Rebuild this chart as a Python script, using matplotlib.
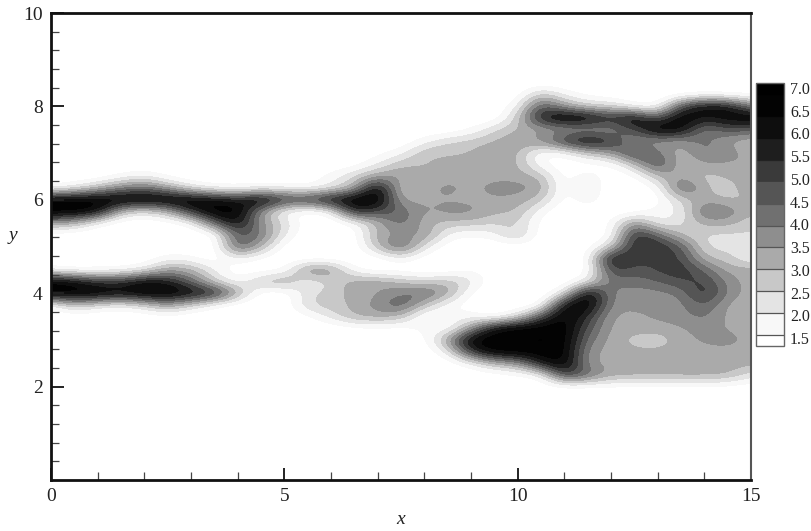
#!/usr/bin/env python3
"""Grey banded wake field drawn with bicubic image resampling, with a level key on the right."""

import numpy as np
import matplotlib
matplotlib.use("Agg")
import matplotlib.pyplot as plt
from matplotlib.colors import BoundaryNorm, ListedColormap

# value grid: one list per x, running from y=8.5 down to y=1.5
x_values = [0.5 * i for i in range(31)]
y_values = [8.5 - 0.25 * i for i in range(29)]
blank_top = [1] * 8
blank_low = [1] * 7
density_by_x = [
    blank_top + [1, 1.4, 7, 7, 3.5, 1, 1, 1, 1.6, 7, 7, 1.4, 1, 1] + blank_low,
    blank_top + [1, 2, 7, 7, 3, 1, 1, 1, 1.2, 6.5, 7, 3, 1, 1] + blank_low,
    blank_top + [1, 3, 7, 6.5, 1.6, 1, 1, 1, 1.4, 5.5, 7, 2.2, 1, 1] + blank_low,
    blank_top + [1.6, 4, 7, 2.8, 1, 1, 1, 1, 1.5, 5.5, 6.5, 1.8, 1, 1] + blank_low,
    blank_top + [2, 4.5, 7, 2.2, 1, 1, 1, 1, 2, 6.5, 7, 2.5, 1, 1] + blank_low,
    blank_top + [1.3, 3.5, 7, 3, 1.1, 1, 1, 1.8, 3.5, 6, 7, 3.5, 1.2, 1] + blank_low,
    blank_top + [1, 2.2, 7, 5.5, 1.5, 1, 1, 1.6, 3.2, 4.5, 6.5, 2.5, 1, 1] + blank_low,
    blank_top + [1, 1.6, 6.5, 7, 4.5, 1.1, 1, 1, 2, 2.5, 6, 1.5, 1, 1] + blank_low,
    blank_top + [1, 1.5, 6, 7, 6.5, 4.8, 5, 2, 1, 1.5, 3.5, 1, 1, 1] + blank_low,
    blank_top + [1, 1.7, 7, 3.5, 3.5, 4.3, 3.2, 1.3, 1, 3, 1, 1, 1, 1] + blank_low,
    blank_top + [1, 1.8, 5.5, 1.5, 2.5, 2, 1.1, 1, 1.3, 3.5, 1, 1, 1, 1] + blank_low,
    blank_top + [1, 1.5, 5.5, 1.1, 1, 1, 1, 1, 4, 1.8, 2.3, 2.6, 1.3, 1] + blank_low,
    blank_top + [1.8, 2, 6.5, 1.6, 1, 1, 1, 1, 3.8, 2.5, 2.8, 2.8, 2.2, 1] + blank_low,
    [1, 1, 1, 1, 1, 1, 1, 1.2] + [2.5, 3, 7, 6, 1.5, 1, 1, 1, 1.5, 3.4, 3.2, 3.1, 3.2, 1.2] + blank_low,
    [1, 1, 1, 1, 1, 1, 1.3, 2] + [3.5, 7, 7, 5, 3, 3.5, 3, 1.1, 1, 3.5, 3.4, 3.8, 3.3, 1.3] + blank_low,
    [1, 1, 1, 1, 1, 1, 1.8, 3] + [3.6, 2.5, 3.2, 4.5, 4.5, 3.3, 4.8, 2, 1, 3, 4, 4.8, 3, 1.2] + blank_low,
    [1, 1, 1, 1, 1, 1.8, 3, 3, 3, 3.3, 3.4, 3.4, 3.1, 3.8, 2.2, 1.1, 1, 2.5, 4.5, 3, 1, 1.8, 1.2, 1, 1, 1, 1, 1, 1],
    [1, 1, 1, 1, 1, 2.5, 3, 3.1, 3.3, 3.8, 3.4, 3.8, 2.8, 1.8, 1.1, 1, 1, 3, 3.5, 1.5, 1.7, 1.3, 3.5, 2, 1, 1, 1, 1, 1],
    [1, 1, 1, 1, 1.5, 2.7, 3, 3.2, 3.3, 3.3, 3.3, 3.8, 2.8, 1.5, 1, 1, 1.5, 2.3, 1.3, 1.1, 1.8, 3.5, 7, 5.5, 1.8, 1, 1, 1, 1],
    [1, 1, 1, 1, 2.5, 3, 3.7, 3.2, 3.3, 3.8, 3.4, 3.1, 2.5, 1.8, 1, 1, 1.1, 1, 1, 1, 1.1, 6.5, 7, 7, 3, 1.1, 1, 1, 1],
    [1, 1.1, 1.8, 2.7, 3, 3.6, 3.1, 3.2, 3.3, 3.8, 3.3, 3.1, 2.6, 3, 1.2, 1, 1.3, 1, 1, 1, 2.2, 7, 7, 7, 3.5, 1.3, 1, 1, 1],
    [1, 3, 5, 6, 3.2, 3.7, 1.3, 1.5, 3, 3.5, 2.8, 1.6, 1.2, 1, 1, 1, 1, 1, 1, 1.1, 5, 7, 7, 7, 6, 1.6, 1, 1, 1],
    [1, 1.8, 3.5, 7, 3.5, 5.5, 1.5, 1.1, 1.1, 1.1, 1.1, 1, 1, 1.5, 1, 1, 1, 1, 2, 6.5, 7, 7, 7, 7, 7, 5.5, 1.2, 1, 1],
    [1, 1.3, 2.5, 6.8, 3.5, 6.5, 2.8, 1.1, 2, 2.2, 2, 1.2, 1, 1, 1.1, 1.2, 1.1, 2, 7, 7, 5.5, 4.8, 4.2, 3.6, 3.5, 4.5, 1.2, 1, 1],
    [1, 1.1, 2.5, 5.5, 3.7, 5.5, 3.5, 1.2, 1.1, 1, 1, 1, 1.4, 1.2, 2.5, 6.5, 5.3, 4.3, 3.8, 3.7, 3.3, 3.3, 3.3, 3.3, 3.3, 3.3, 1.3, 1, 1],
    [1, 1, 1.5, 6.8, 5, 3.5, 5.5, 2.8, 1.2, 1, 1, 1.1, 4, 5.8, 5.7, 5.2, 4.7, 4.2, 3.7, 3.6, 3.4, 3.3, 2.7, 3.2, 3.3, 3.3, 1.2, 1, 1],
    [1, 1, 1.3, 4.5, 7, 3.5, 4.2, 5.2, 3, 1.4, 1.1, 1.8, 1.8, 4.5, 5.7, 5.2, 5.1, 4.5, 3.8, 3.6, 3.6, 3.3, 2.5, 3.2, 3.3, 3.3, 1.2, 1, 1],
    [1, 1.2, 5, 7, 6.5, 3.5, 3, 2.8, 3.5, 4.8, 2.6, 1.8, 2.3, 2.8, 4.8, 5.2, 5.5, 5, 4, 3.8, 3.8, 3.4, 3.3, 3.3, 3.3, 3.3, 1.2, 1, 1],
    [1, 1.3, 6.5, 6, 3.8, 4.3, 4.2, 3.5, 2.6, 3.2, 3.3, 4.5, 3.2, 2.4, 2.3, 3, 4.5, 5.2, 5.7, 4.7, 4.2, 3.8, 3.6, 3.3, 3.3, 3.3, 1.3, 1, 1],
    [1, 1.2, 6.3, 6.5, 5, 3.3, 4, 3.3, 3.2, 2.3, 3, 4, 3.3, 2.3, 2.3, 2.8, 3.2, 3.8, 3.9, 3.3, 3.3, 3.4, 3.8, 3.3, 3.3, 3.2, 1.2, 1, 1],
    [1, 1.2, 4, 7, 4.5, 3, 3.1, 3.5, 3.3, 3.8, 2.8, 3.2, 2.5, 2.5, 2, 1.8, 3.4, 3.2, 3.2, 3.1, 3.2, 3.3, 3.3, 3.3, 3.2, 2.2, 1.1, 1, 1],
]
contour_levels = [1.5, 2.0, 2.5, 3.0, 3.5, 4.0, 4.5, 5.0, 5.5, 6.0, 6.5, 7.0]
level_labels = ["7.0", "6.5", "6.0", "5.5", "5.0", "4.5", "4.0", "3.5", "3.0", "2.5", "2.0", "1.5"]
x_ticks = [0, 5, 10, 15]
y_ticks = [2, 4, 6, 8, 10]

# below 1.5 first, above 7.0 last
band_colors = ["#ffffff", "#f8f8f8", "#e4e4e4", "#c8c8c8", "#aaaaaa", "#8e8e8e", "#707070",
               "#555555", "#3a3a3a", "#1e1e1e", "#0e0e0e", "#030303", "#000000"]
# edge lines of the key, bottom to top: they disappear in the dark bands
edge_colors = ["#555555"] * 8 + ["#222222", "#0e0e0e", "#040404", "#000000"]

plt.rcParams["font.family"] = ["Liberation Serif", "DejaVu Serif"]

W, H = 812, 531
fig = plt.figure(figsize=(W / 100, H / 100), dpi=100)
ax = fig.add_axes([51 / W, 1 - 480 / H, 700 / W, 467 / H])

field = np.array(density_by_x).T
cmap = ListedColormap(band_colors)
norm = BoundaryNorm(contour_levels, ncolors=len(band_colors), extend="both")
half_dx = (x_values[1] - x_values[0]) / 2
half_dy = (y_values[0] - y_values[1]) / 2
# data stage resampling so the bands stay sharp and smooth
im = ax.imshow(field, cmap=cmap, norm=norm, aspect="auto", origin="upper",
               interpolation="bicubic", interpolation_stage="data",
               extent=[x_values[0] - half_dx, x_values[-1] + half_dx,
                       y_values[-1] - half_dy, y_values[0] + half_dy])

ax.set_xlim(0, 15)
ax.set_ylim(0, 10)
ax.set_xticks(x_ticks)
ax.set_yticks(y_ticks)
ax.set_xticks(np.arange(0, 15), minor=True)
ax.set_yticks(np.arange(0, 10, 0.4), minor=True)
ax.tick_params(which="major", direction="in", length=9, width=1.4, labelsize=14, pad=6, color="#222222", labelcolor="#222222")
ax.tick_params(which="minor", direction="in", length=5.5, width=0.9, color="#444444")
ax.set_xlabel("x", style="italic", fontsize=14, labelpad=4, color="#222222")
ax.set_ylabel("y", style="italic", fontsize=14, rotation=0, labelpad=9, color="#222222")
ax.yaxis.set_label_coords(-0.055, 0.505)
for side in ["left", "bottom", "top"]:
    ax.spines[side].set_linewidth(2)
    ax.spines[side].set_color("#111111")
ax.spines["right"].set_linewidth(1.5)
ax.spines["right"].set_color("#555555")

cax = fig.add_axes([756 / W, 1 - 346 / H, 28.5 / W, 263 / H])
cbar = fig.colorbar(im, cax=cax, extend="both", extendrect=True, extendfrac=(0.046, 0.047),
                    drawedges=True, ticks=[], spacing="uniform")
cbar.minorticks_off()
cbar.outline.set_edgecolor("#666666")
cbar.outline.set_linewidth(1.0)
cbar.dividers.set_color(edge_colors)
cbar.dividers.set_linewidth(0.9)

# the key labels sit a little off the band edges in the original
for i, label in enumerate(level_labels):
    fig.text(790 / W, 1 - (90 + i * 22.73) / H, label, fontsize=11.5, va="center", ha="left", color="#222222")

fig.savefig("out.png", dpi=100)
